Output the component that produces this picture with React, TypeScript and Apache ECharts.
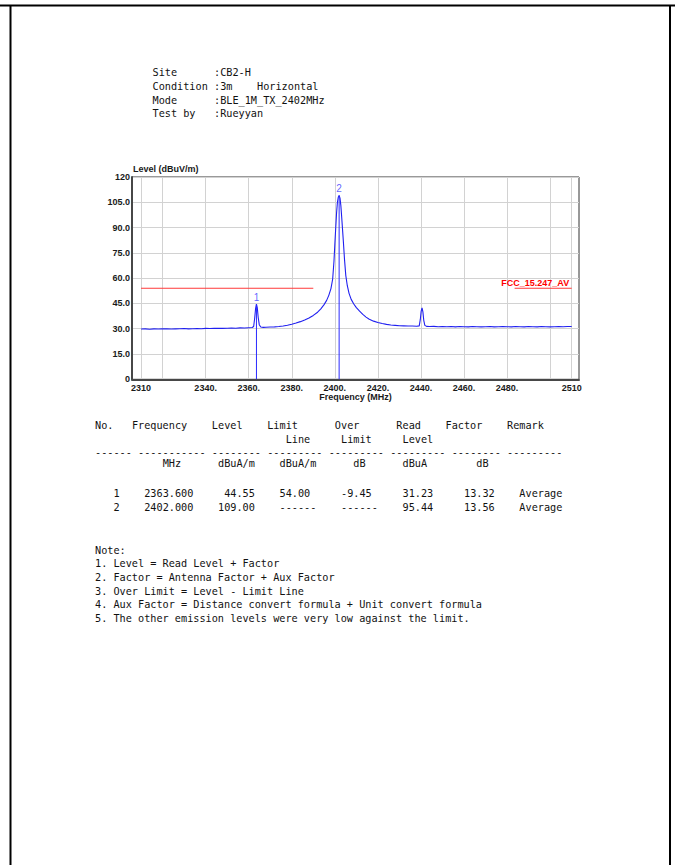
import React, { useEffect, useRef } from "react";
import * as echarts from "echarts";

// ---------- header info ----------
const infoLabels = ["Site", "Condition", "Mode", "Test by"];
const infoValues = [":CB2-H", ":3m", ":BLE_1M_TX_2402MHz", ":Rueyyan"];
const infoExtra = "Horizontal";

// ---------- spectrum trace (MHz, dBuV/m) ----------
const traceFreq = [
  2310, 2312, 2314, 2316, 2318, 2320, 2322, 2324, 2326, 2328, 2330, 2332, 2334, 2336, 2338,
  2340, 2342, 2344, 2346, 2348, 2350, 2352, 2354, 2356, 2358, 2360, 2361.6, 2362.3, 2362.8,
  2363.2, 2363.6, 2364.0, 2364.4, 2364.9, 2365.6, 2366.8, 2368, 2370, 2372, 2374, 2376, 2378,
  2380, 2382, 2384, 2386, 2388, 2390, 2392, 2393.5, 2395, 2396.2, 2397.2, 2398.2, 2399.0,
  2399.6, 2400.0, 2400.4, 2400.8, 2401.2, 2401.6, 2402.0, 2402.4, 2402.8, 2403.2, 2403.6,
  2404.0, 2404.5, 2405.1, 2405.8, 2406.6, 2407.6, 2408.8, 2410, 2411.5, 2413, 2414.5, 2416,
  2418, 2420, 2422, 2424, 2426, 2428, 2430, 2432, 2434, 2436, 2438, 2439.2, 2439.7, 2440.1,
  2440.5, 2440.9, 2441.3, 2441.8, 2442.6, 2444, 2446, 2448, 2450, 2452, 2454, 2456, 2458,
  2460, 2462, 2464, 2466, 2468, 2470, 2472, 2474, 2476, 2478, 2480, 2482, 2484, 2486, 2488,
  2490, 2492, 2494, 2496, 2498, 2500, 2502, 2504, 2506, 2508, 2510,
];
const traceLevel = [
  29.8, 29.9, 29.7, 29.9, 29.8, 29.9, 30.0, 29.8, 29.9, 30.0, 30.1, 29.9, 30.0, 30.1, 30.0,
  30.2, 30.1, 30.2, 30.3, 30.2, 30.3, 30.4, 30.3, 30.5, 30.4, 30.6, 30.7, 31.3, 36.5,
  42.0, 44.55, 42.3, 36.8, 32.4, 31.0, 30.8, 30.9, 31.0, 31.1, 31.3, 31.6, 32.1,
  32.7, 33.4, 34.2, 35.2, 36.4, 37.9, 39.8, 41.8, 44.3, 46.8, 49.8, 53.8, 59.5,
  70.0, 80.0, 89.5, 98.5, 105.0, 108.0, 109.0, 107.5, 103.0, 96.0, 88.5,
  81.0, 71.0, 61.5, 55.5, 51.0, 47.4, 44.7, 42.5, 40.4, 38.5, 36.9, 35.6,
  34.5, 33.7, 33.1, 32.6, 32.2, 32.0, 31.8, 31.7, 31.6, 31.6, 31.5, 31.7, 35.5, 40.5,
  42.4, 40.0, 35.0, 32.0, 31.4, 31.3, 31.4, 31.2, 31.3, 31.2, 31.3, 31.1, 31.3,
  31.2, 31.1, 31.3, 31.2, 31.1, 31.2, 31.3, 31.1, 31.2, 31.3, 31.2, 31.1, 31.3, 31.2, 31.1,
  31.3, 31.2, 31.1, 31.3, 31.2, 31.1, 31.2, 31.3, 31.2, 31.3, 31.3,
];

// ---------- limit ----------
const limitName = "FCC_15.247_AV";
const limitLevel = 54;
const limitBandStart = [2310, 2483.5];
const limitBandEnd = [2390, 2510];

// ---------- markers ----------
const markerNo = ["1", "2"];
const markerFreq = [2363.6, 2402.0];
const markerLevel = [44.55, 109.0];

// ---------- axes ----------
const yTickValues = [0, 15, 30, 45, 60, 75, 90, 105, 120];
const yTickLabels = ["0", "15.0", "30.0", "45.0", "60.0", "75.0", "90.0", "105.0", "120"];
const xGridValues = [2310, 2320, 2340, 2360, 2380, 2400, 2420, 2440, 2460, 2480, 2500, 2510];
const xLabelValues = [2310, 2340, 2360, 2380, 2400, 2420, 2440, 2460, 2480, 2510];
const xLabelTexts = ["2310", "2340.", "2360.", "2380.", "2400.", "2420.", "2440.", "2460.", "2480.", "2510"];
const xAxisTitle = "Frequency (MHz)";
const yAxisTitle = "Level (dBuV/m)";

// ---------- table ----------
const headRow1 = ["No.", "Frequency", "Level", "Limit", "Over", "Read", "Factor", "Remark"];
const headRow2 = ["Line", "Limit", "Level"];
const unitRow = ["MHz", "dBuA/m", "dBuA/m", "dB", "dBuA", "dB"];
const dashGroups = [6, 11, 8, 9, 9, 9, 8, 9];
const colNo = ["1", "2"];
const colFreq = ["2363.600", "2402.000"];
const colLevel = ["44.55", "109.00"];
const colLimit = ["54.00", "------"];
const colOver = ["-9.45", "------"];
const colRead = ["31.23", "95.44"];
const colFactor = ["13.32", "13.56"];
const colRemark = ["Average", "Average"];
const notes = [
  "Note:",
  "1. Level = Read Level + Factor",
  "2. Factor = Antenna Factor + Aux Factor",
  "3. Over Limit = Level - Limit Line",
  "4. Aux Factor = Distance convert formula + Unit convert formula",
  "5. The other emission levels were very low against the limit.",
];

// ---------- layout (not data) ----------
const MONO = '"DejaVu Sans Mono", "Liberation Mono", monospace';
const SANS = '"Liberation Sans", Arial, sans-serif';
const CW = 6.15;
const MONO_SIZE = CW / 0.602;
const HX0 = 152.5;
const HY0 = 72.5;
const HDY = 13.8;
const TX0 = 95;
const headCols1 = [0, 6, 19, 28, 39, 49, 57, 67];
const headCols2 = [31, 40, 50];
const unitCols = [11, 20, 30, 42, 50, 62];
const dashCols = [0, 7, 19, 28, 38, 48, 58, 67];
const rowY = [493, 507.3];

export default function App() {
  const ref = useRef<HTMLDivElement>(null);

  useEffect(() => {
    document.body.style.margin = "0";
    const chart = echarts.init(ref.current!, null, { renderer: "svg" });

    const axisLabelStyle = {
      fontSize: 9,
      fontWeight: "bold" as const,
      color: "#1a1a1a",
      fontFamily: SANS,
    };

    const series: any[] = [];
    limitBandStart.forEach((s, i) => {
      series.push({
        type: "line",
        data: [
          [s, limitLevel],
          [limitBandEnd[i], limitLevel],
        ],
        symbol: "none",
        silent: true,
        lineStyle: { color: "#ff3a3a", width: 1 },
        z: 2,
      });
    });
    series.push({
      type: "line",
      data: traceFreq.map((f, i) => [f, traceLevel[i]]),
      symbol: "none",
      silent: true,
      lineStyle: { color: "#2020f0", width: 1.1 },
      z: 3,
    });
    markerFreq.forEach((f, i) => {
      series.push({
        type: "line",
        data: [
          [f, 0],
          [f, markerLevel[i]],
        ],
        symbol: "none",
        silent: true,
        lineStyle: { color: "#2a2aff", width: 1 },
        z: 4,
      });
    });
    series.push({
      type: "scatter",
      data: markerFreq.map((f, i) => ({ value: [f, markerLevel[i]], name: markerNo[i] })),
      symbolSize: 1,
      silent: true,
      itemStyle: { color: "transparent" },
      label: {
        show: true,
        position: "top",
        distance: 1.5,
        formatter: "{b}",
        color: "#3a3aff",
        fontSize: 10,
        fontFamily: SANS,
      },
      z: 5,
    });

    chart.setOption({
      animation: false,
      backgroundColor: "#ffffff",
      grid: {
        left: 132,
        top: 177,
        width: 447,
        height: 202.3,
        show: true,
        backgroundColor: "#ffffff",
        borderColor: "#333333",
        borderWidth: 1,
        containLabel: false,
        outerBoundsMode: "none",
      },
      xAxis: {
        type: "value",
        min: 2305.8,
        max: 2513.4,
        axisLine: { show: true, onZero: false, lineStyle: { color: "#474747", width: 2 } },
        axisTick: { show: false, customValues: xGridValues },
        axisLabel: {
          ...axisLabelStyle,
          customValues: xLabelValues,
          margin: 4,
          hideOverlap: false,
          formatter: (v: number) => {
            const k = xLabelValues.indexOf(v);
            return k >= 0 ? xLabelTexts[k] : "";
          },
        },
        splitLine: { show: true, lineStyle: { color: "#d2d2d2", width: 1 } },
      },
      yAxis: {
        type: "value",
        min: 0,
        max: 120,
        interval: 15,
        axisLine: { show: true, onZero: false, lineStyle: { color: "#474747", width: 2 } },
        axisTick: { show: false },
        axisLabel: {
          ...axisLabelStyle,
          margin: 2,
          formatter: (v: number) => {
            const k = yTickValues.indexOf(v);
            return k >= 0 ? yTickLabels[k] : "";
          },
        },
        splitLine: { show: true, lineStyle: { color: "#d2d2d2", width: 1 } },
      },
      series,
    });

    const limEnd = chart.convertToPixel({ xAxisIndex: 0, yAxisIndex: 0 } as any, [
      limitBandEnd[limitBandEnd.length - 1],
      limitLevel,
    ]) as number[];

    const txt = (x: number, y: number, s: string, extra: any = {}) => ({
      type: "text",
      x,
      y,
      silent: true,
      style: {
        text: s,
        font: `${MONO_SIZE}px ${MONO}`,
        fill: "#111111",
        textAlign: "left",
        textVerticalAlign: "middle",
        ...extra,
      },
    });
    const col = (c: number) => TX0 + c * CW;

    const g: any[] = [];
    // page frame
    const frame = { stroke: "#000000", lineWidth: 2 };
    g.push({ type: "line", silent: true, shape: { x1: 0, y1: 5.5, x2: 675, y2: 5.5 }, style: frame });
    g.push({ type: "line", silent: true, shape: { x1: 10.5, y1: 5, x2: 10.5, y2: 865 }, style: frame });
    g.push({ type: "line", silent: true, shape: { x1: 670, y1: 5, x2: 670, y2: 865 }, style: frame });

    // header block
    infoLabels.forEach((l, i) => {
      g.push(txt(HX0, HY0 + i * HDY, l));
      g.push(txt(HX0 + 10 * CW, HY0 + i * HDY, infoValues[i]));
    });
    g.push(txt(HX0 + 17 * CW, HY0 + HDY, infoExtra));

    // axis titles
    g.push(txt(133, 169, yAxisTitle, { font: `bold 9px ${SANS}`, fill: "#1a1a1a" }));
    g.push(
      txt(355.5, 397.3, xAxisTitle, { font: `bold 9px ${SANS}`, fill: "#1a1a1a", textAlign: "center" })
    );
    // limit name
    g.push(
      txt(limEnd[0] - 2.5, limEnd[1] - 5.5, limitName, {
        font: `bold 9px ${SANS}`,
        fill: "#ff0000",
        textAlign: "right",
      })
    );

    // table header
    headRow1.forEach((s, i) => g.push(txt(col(headCols1[i]), 425, s)));
    headRow2.forEach((s, i) => g.push(txt(col(headCols2[i]), 439.2, s)));
    dashGroups.forEach((n, i) => g.push(txt(col(dashCols[i]), 452.5, "-".repeat(n))));
    unitRow.forEach((s, i) => g.push(txt(col(unitCols[i]), 463.8, s)));
    // table rows
    colNo.forEach((s, r) => {
      const y = rowY[r];
      g.push(txt(col(3), y, s));
      g.push(txt(col(8), y, colFreq[r]));
      g.push(txt(col(26), y, colLevel[r], { textAlign: "right" }));
      g.push(txt(col(30), y, colLimit[r]));
      g.push(txt(col(40), y, colOver[r]));
      g.push(txt(col(50), y, colRead[r]));
      g.push(txt(col(60), y, colFactor[r]));
      g.push(txt(col(69), y, colRemark[r]));
    });
    // notes
    notes.forEach((s, i) => g.push(txt(TX0, 550.3 + i * 13.62, s)));

    chart.setOption({ graphic: { elements: g } });

    return () => chart.dispose();
  }, []);

  return <div ref={ref} style={{ width: 675, height: 865 }} />;
}
